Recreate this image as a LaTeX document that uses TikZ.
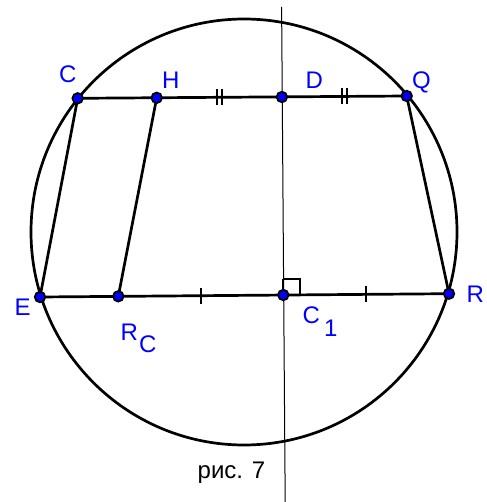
\documentclass[tikz,border=0pt]{standalone}
\usepackage{fontspec}
\setmainfont{Liberation Sans}
\usetikzlibrary{calc}
\definecolor{ptblue}{RGB}{0,0,255}
\tikzset{
  seg/.style={line width=2.7pt, line cap=round},
  thinline/.style={line width=1pt},
  lbl/.style={text=ptblue, font=\fontsize{24}{24}\selectfont, inner sep=0pt, anchor=base west},
  dot/.style={circle, fill=ptblue, draw=black, line width=1.8pt, minimum size=10.5pt, inner sep=0pt},
  tick/.style={line width=2pt}
}
\begin{document}
\begin{tikzpicture}[x=1pt,y=-1pt]
\useasboundingbox (0,0) rectangle (486,502);
\coordinate (O) at (244,232);
\coordinate (C) at (77.7,98.3);
\coordinate (H) at (156.7,97.8);
\coordinate (D) at (281.9,97);
\coordinate (Q) at (406.7,96);
\coordinate (E) at (40,297);
\coordinate (RC) at (118.3,296.3);
\coordinate (C1) at (283.3,295);
\coordinate (R) at (449,293.7);
\coordinate (Ltop) at (281.6,7);
\coordinate (Lbot) at (285.2,502);
% circle
\draw[line width=2.7pt] (O) circle[radius=213pt];
% perpendicular line
\draw[thinline] (Ltop) -- (Lbot);
% segments
\draw[seg] (C) -- (Q);
\draw[seg] (E) -- (R);
\draw[seg] (C) -- (E);
\draw[seg] (H) -- (RC);
\draw[seg] (Q) -- (R);
% right angle
\draw[line width=2pt] ($(C1)+(0,-16.5)$) -- ++(16.5,0) -- ++(0,16.5);
\draw[line width=2pt] (C1) -- ++(0,-16.5);
% ticks
\draw[tick] ($(RC)!0.5!(C1)$) ++(0,-8) -- ++(0,16);
\draw[tick] ($(C1)!0.5!(R)$) ++(0,-8) -- ++(0,16);
\draw[tick] ($(H)!0.5!(D)$) ++(-2.8,-8) -- ++(0,16);
\draw[tick] ($(H)!0.5!(D)$) ++(2.8,-8) -- ++(0,16);
\draw[tick] ($(D)!0.5!(Q)$) ++(-2.8,-8) -- ++(0,16);
\draw[tick] ($(D)!0.5!(Q)$) ++(2.8,-8) -- ++(0,16);
% points
\foreach \p in {C,H,D,Q,E,RC,C1,R} \node[dot] (dot\p) at (\p) {};
% labels
\node[lbl] (lC) at (59,83) {C};
\node[lbl] (lH) at (162,89) {H};
\node[lbl] (lD) at (305.5,89) {D};
\node[lbl] (lQ) at (412,89) {Q};
\node[lbl] (lE) at (14.5,315) {E};
\node[lbl] (lRC) at (120.5,340) {R\kern1pt\raisebox{-12pt}{C}};
\node[lbl] (lC1) at (302.5,323) {C\kern4pt\raisebox{-13pt}{1}};
\node[lbl] (lR) at (466.5,302) {R};
\node[font=\fontsize{24}{24}\selectfont, inner sep=0pt, anchor=base] (cap) at (231.5,478) {рис. 7};
\end{tikzpicture}
\end{document}
